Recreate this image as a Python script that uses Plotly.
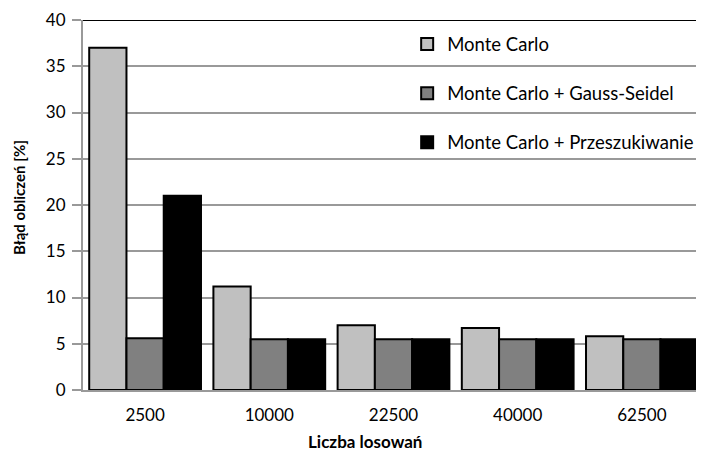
import plotly.graph_objects as go

categories = ["2500", "10000", "22500", "40000", "62500"]
mc = [37.0, 11.2, 7.0, 6.7, 5.8]
mc_gs = [5.6, 5.5, 5.5, 5.5, 5.5]
mc_p = [21.0, 5.5, 5.5, 5.5, 5.5]
names = ["Monte Carlo", "Monte Carlo + Gauss-Seidel", "Monte Carlo + Przeszukiwanie"]
colors = ["#c0c0c0", "#808080", "#000000"]

FONT = "Lato, 'Open Sans', sans-serif"

fig = go.Figure()
for i, (vals, nm, col) in enumerate(zip([mc, mc_gs, mc_p], names, colors)):
    fig.add_trace(go.Bar(
        x=categories, y=vals, name=nm, legendgroup=f"g{i}",
        marker=dict(color=col, line=dict(color="black", width=2)),
    ))

fig.update_layout(
    width=696, height=446,
    margin=dict(l=75, r=0, t=12, b=64, autoexpand=False),
    paper_bgcolor="white", plot_bgcolor="white",
    barmode="group", bargap=0.1, bargroupgap=0,
    font=dict(family=FONT, size=17, color="black"),
    legend=dict(
        x=0.522, y=0.985, xanchor="left", yanchor="top",
        bgcolor="rgba(0,0,0,0)", tracegroupgap=22,
        font=dict(size=18.5, family=FONT), itemwidth=30,
    ),
    xaxis=dict(
        type="category", showline=True, linecolor="#999999", linewidth=2,
        ticks="", tickfont=dict(size=17), automargin=False,
        ticklabelstandoff=9,
    ),
    yaxis=dict(
        range=[0, 40], dtick=5, showgrid=True, gridcolor="#999999", gridwidth=2,
        showline=True, linecolor="#999999", linewidth=2,
        ticks="outside", ticklen=9, tickcolor="#999999", tickwidth=2,
        tickfont=dict(size=17), zeroline=False, automargin=False,
        ticklabelstandoff=3,
    ),
    shapes=[dict(type="line", xref="paper", yref="y", x0=0, x1=1, y0=40, y1=40,
                 line=dict(color="black", width=2))],
    annotations=[
        dict(text="<b>Liczba losowań</b>", xref="paper", yref="paper",
             x=(357 - 75) / 621, y=-0.138, xanchor="center", yanchor="middle",
             showarrow=False, font=dict(size=17, family=FONT)),
        dict(text="<b>Błąd obliczeń [%]</b>", xref="paper", yref="paper",
             x=-0.104, y=0.52, xanchor="center", yanchor="middle", textangle=-90,
             showarrow=False, font=dict(size=15, family=FONT)),
    ],
)

fig.write_html("out.html")
